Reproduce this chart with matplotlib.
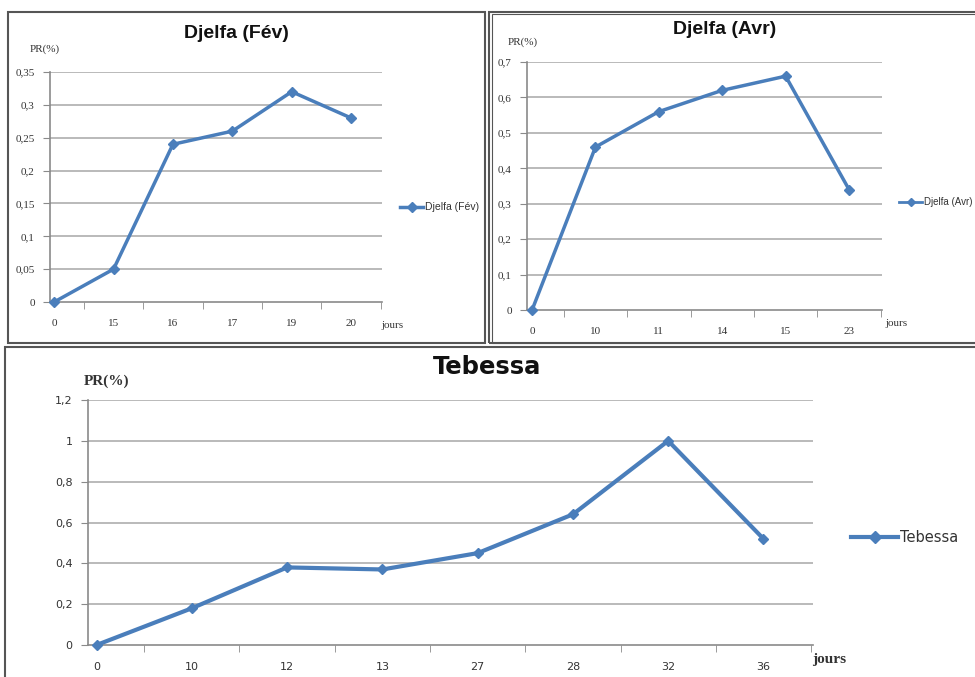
import matplotlib
matplotlib.use("Agg")
import matplotlib.pyplot as plt
import numpy as np
from matplotlib.patches import Rectangle
from matplotlib.lines import Line2D

# data
feb_days = ["0", "15", "16", "17", "19", "20"]
feb_pr = [0, 0.05, 0.24, 0.26, 0.32, 0.28]
feb_yticks = [0, 0.05, 0.1, 0.15, 0.2, 0.25, 0.3, 0.35]
feb_ylabels = ["0", "0,05", "0,1", "0,15", "0,2", "0,25", "0,3", "0,35"]

avr_days = ["0", "10", "11", "14", "15", "23"]
avr_pr = [0, 0.46, 0.56, 0.62, 0.66, 0.34]
avr_yticks = [0, 0.1, 0.2, 0.3, 0.4, 0.5, 0.6, 0.7]
avr_ylabels = ["0", "0,1", "0,2", "0,3", "0,4", "0,5", "0,6", "0,7"]

teb_days = ["0", "10", "12", "13", "27", "28", "32", "36"]
teb_pr = [0, 0.18, 0.38, 0.37, 0.45, 0.64, 1.0, 0.52]
teb_yticks = [0, 0.2, 0.4, 0.6, 0.8, 1.0, 1.2]
teb_ylabels = ["0", "0,2", "0,4", "0,6", "0,8", "1", "1,2"]

W, H = 975, 677
BLUE = "#4a7ebb"
GRID = "#b4b4b4"
AXC = "#8a8a8a"
SERIF = "Liberation Serif"
NARROW = ["Liberation Sans", "DejaVu Sans"]

fig = plt.figure(figsize=(W / 100, H / 100), dpi=100)
fig.patch.set_facecolor("white")


def px(x, y):
    return x / W, 1 - y / H


def rect(l, t, r, b):
    return [l / W, 1 - b / H, (r - l) / W, (b - t) / H]


def box(l, t, r, b, lw=1.5):
    fig.patches.append(Rectangle(px(l, b), (r - l) / W, (b - t) / H,
                                 transform=fig.transFigure, fill=False,
                                 edgecolor="#555555", linewidth=lw))


# panel frames
box(8, 12, 485, 343)
box(489, 12, 990, 343)
box(492, 14, 990, 343, lw=0.8)
box(5, 347, 990, 690)


def panel(r, days, vals, yticks, ylabels, ymax, xleft, lw, ms,
          tick_font, tick_size):
    ax = fig.add_axes(rect(*r))
    x = np.arange(len(days))
    ax.plot(x, vals, color=BLUE, lw=lw, marker="D", ms=ms,
            markeredgecolor=BLUE, clip_on=False, zorder=3)
    ax.set_xlim(xleft, len(days) - 0.48)
    ax.set_ylim(0, ymax)
    ax.set_yticks(yticks)
    ax.set_yticklabels(ylabels, fontfamily=tick_font, fontsize=tick_size,
                       color="#333333")
    ax.set_xticks(x)
    ax.set_xticklabels(days, fontfamily=tick_font, fontsize=tick_size,
                       color="#333333")
    ax.set_xticks(x + 0.5, minor=True)
    ax.tick_params(axis="x", which="major", length=0, pad=12)
    ax.tick_params(axis="x", which="minor", length=5, color=AXC, direction="out")
    ax.tick_params(axis="y", length=5, color=AXC, pad=6)
    for yv in yticks[1:]:
        ax.axhline(yv, color=GRID, lw=1.3, zorder=1)
    for s in ["top", "right"]:
        ax.spines[s].set_visible(False)
    for s in ["left", "bottom"]:
        ax.spines[s].set_color(AXC)
        ax.spines[s].set_linewidth(1.2)
    return ax


panel((50, 72, 382, 302), feb_days, feb_pr, feb_yticks, feb_ylabels, 0.35,
      -0.07, 2.5, 5, SERIF, 8)
panel((527, 62, 882, 310), avr_days, avr_pr, avr_yticks, avr_ylabels, 0.7,
      -0.08, 2.5, 5, SERIF, 8)
panel((88, 400, 813, 645), teb_days, teb_pr, teb_yticks, teb_ylabels, 1.2,
      -0.09, 3, 5.5, "DejaVu Sans", 8)

# titles and axis names
fig.text(*px(236, 33), "Djelfa (Fév)", ha="center", va="center",
         fontsize=14, fontweight="bold", family=NARROW, color="#111111")
fig.text(*px(725, 30), "Djelfa (Avr)", ha="center", va="center",
         fontsize=14, fontweight="bold", family=NARROW, color="#111111")
fig.text(*px(487, 367), "Tebessa", ha="center", va="center",
         fontsize=17.5, fontweight="bold", family="DejaVu Sans",
         color="#111111")

fig.text(*px(45, 49), "PR(%)", ha="center", va="center", fontsize=8,
         family=SERIF, color="#333333")
fig.text(*px(523, 42), "PR(%)", ha="center", va="center", fontsize=8,
         family=SERIF, color="#333333")
fig.text(*px(107, 381), "PR(%)", ha="center", va="center", fontsize=11,
         family=SERIF, fontweight="bold", color="#333333")

fig.text(*px(392, 325), "jours", ha="center", va="center", fontsize=8,
         family=SERIF, color="#333333")
fig.text(*px(896, 323), "jours", ha="center", va="center", fontsize=8,
         family=SERIF, color="#333333")
fig.text(*px(829, 660), "jours", ha="center", va="center", fontsize=11,
         family=SERIF, fontweight="bold", color="#333333")


# legends drawn by hand, placed like the original's side legends
def legend(x0, x1, y, label, lw, ms, size, family):
    fig.lines.append(Line2D([x0 / W, x1 / W], [1 - y / H, 1 - y / H],
                            transform=fig.transFigure, color=BLUE, lw=lw))
    fig.lines.append(Line2D([(x0 + x1) / 2 / W], [1 - y / H],
                            transform=fig.transFigure, color=BLUE,
                            marker="D", ms=ms))
    fig.text((x1 + 2) / W, 1 - y / H, label, ha="left", va="center",
             fontsize=size, family=family, color="#333333")


legend(400, 423, 207, "Djelfa (Fév)", 2.5, 5, 7.5, NARROW)
legend(899, 922, 202, "Djelfa (Avr)", 2, 4.5, 7, NARROW)
legend(851, 898, 537, "Tebessa", 3, 6, 10.5, "DejaVu Sans")

fig.savefig("out.png", dpi=100)
